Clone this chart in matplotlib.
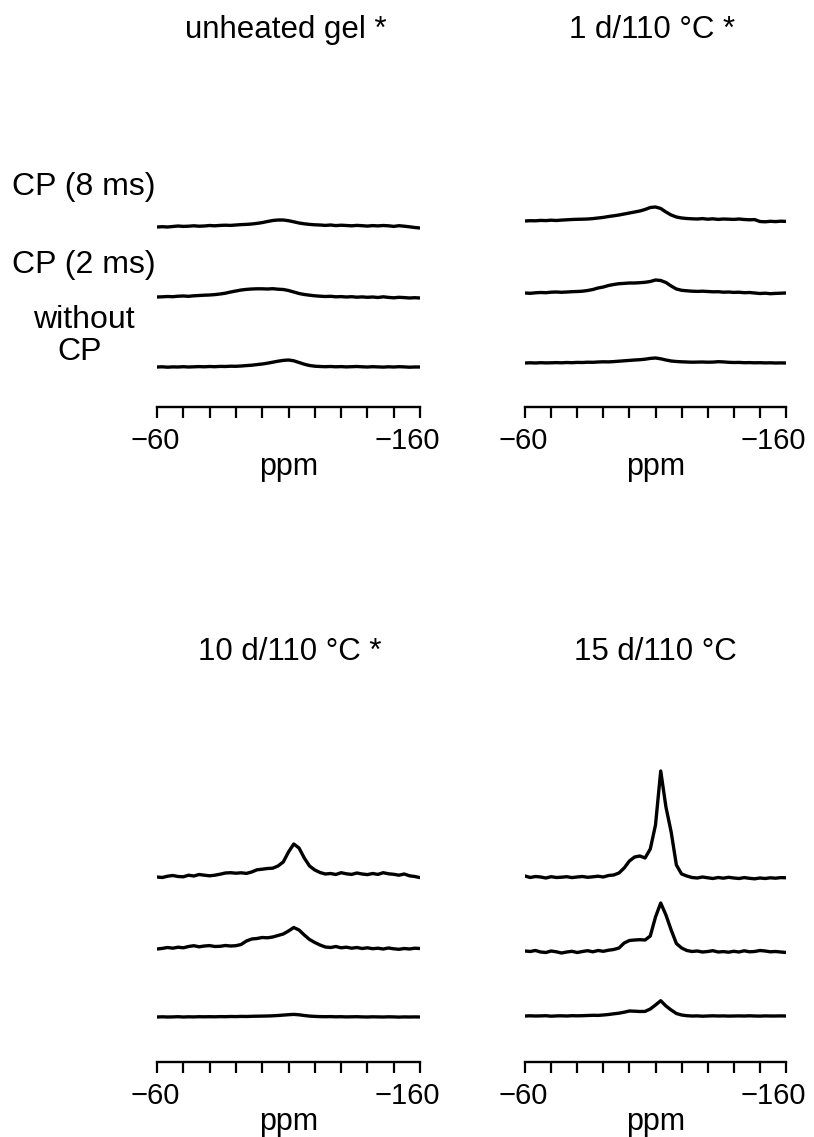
import numpy as np
import matplotlib
matplotlib.use("Agg")
import matplotlib.pyplot as plt

plt.rcParams['font.family'] = ['Liberation Sans', 'DejaVu Sans']

# chemical shift grid (ppm), one reading every 2 ppm
ppm = np.arange(-60, -161, -2)

# intensities (arbitrary units, above each baseline)
unheated_cp8 = [0, 0.3, 0, 0.5, 1, 0.6, 0.8, 1.2, 0.8, 1,
                1.5, 1.2, 1.6, 1.8, 1.6, 2, 2.4, 2.6, 3, 3.6,
                4.4, 5.5, 6.5, 7, 7, 6.3, 5.2, 4, 3.2, 2.6,
                2.2, 2, 1.6, 2, 1.4, 1.8, 1.5, 1.2, 1.6, 1.3,
                0.9, 1.4, 1.1, 1.5, 1.2, 0.6, 1.3, 0.8, 0.2, -0.5, -1]
unheated_cp2 = [0, 0.2, 0.5, 0.3, 0.8, 1, 0.7, 1.2, 1.5, 1.8,
                2, 2.4, 3, 3.8, 5, 6, 7, 7.6, 8, 8.2,
                8.2, 8, 8.3, 7.8, 7.5, 6.5, 5, 3.5, 2.5, 1.8,
                1.2, 0.8, 0.5, 0.7, 0.2, 0.4, 0, 0.3, -0.2, 0.1,
                -0.3, 0, -0.5, 0.2, -0.4, -0.8, -0.3, -0.6, -1, -0.7, -1]
unheated_nocp = [0, 0.2, -0.2, 0.1, 0, 0.3, 0, 0.2, 0.4, 0.2,
                 0.5, 0.3, 0.6, 0.5, 0.8, 0.7, 1, 1.4, 1.8, 2.4,
                 3, 3.8, 4.8, 5.8, 6.6, 7, 6.2, 4.5, 2.8, 1.5,
                 0.8, 0.5, 0.3, 0.5, 0.2, 0.4, 0.1, 0.3, 0.5, 0.2,
                 0, 0.3, 0.1, -0.1, 0.2, 0, 0.3, 0.1, -0.2, 0, 0]

d1_cp8 = [0, 0.3, 0.2, 0.6, 0.4, 0.8, 0.5, 0.9, 1.2, 1.5,
          1.7, 1.8, 2, 2.4, 3, 3.6, 4.5, 5.2, 6, 7,
          8, 9, 10, 11.5, 13.5, 14, 12.5, 9, 6, 4,
          3, 2.5, 2.2, 2, 2.4, 1.8, 2.2, 1.6, 2, 1.8,
          1.6, 2, 1.5, 1.2, 1.4, -0.5, -0.8, -0.3, -0.6, -0.2, -0.4]
d1_cp2 = [0, -0.3, 0.2, 0.5, 0.3, 0.8, 1, 0.7, 1, 1.3,
          1.5, 1.8, 2.5, 3.5, 5, 6, 7.5, 8.5, 9.3, 9.6,
          10, 10, 10.3, 10.7, 11.5, 13, 12.5, 10.5, 7, 4,
          2.7, 2.2, 1.8, 1.6, 1.8, 1.5, 1.2, 1.3, 0.8, 1,
          0.6, 0.8, 0.3, 0.5, 0, -0.5, -0.2, -0.7, -0.4, -0.2, 0]
d1_nocp = [0, 0.2, 0, 0.3, 0.1, 0.2, 0.4, 0.2, 0.5, 0.3,
           0.6, 0.5, 0.8, 0.7, 1, 1.2, 1.1, 1.4, 1.8, 2.2,
           2.6, 3, 3.3, 3.8, 4.6, 5, 4.2, 3, 2, 1.5,
           1.2, 1, 0.8, 0.9, 1, 0.8, 0.9, 1.3, 1.1, 0.7,
           0.5, 0.6, 0.3, 0.4, 0.2, 0.3, 0.1, 0.2, 0, 0.1, 0]

d10_cp8 = [0, -0.5, 0.8, 1.5, 0.5, 0.2, 1.8, 1, 2.5, 1.8,
           1.2, 1.8, 2.8, 4, 4.3, 3.8, 4.2, 3.6, 5, 7.2,
           7.8, 8.5, 8.8, 11, 15, 25, 33, 29, 19, 11,
           7, 4.5, 3, 3.5, 2.5, 4.3, 3.2, 2.6, 4, 3,
           2.4, 3.5, 2.6, 4.3, 3.2, 2.7, 1.8, 3, 1.2, 0.5, -0.6]
d10_cp2 = [0, 0.6, 1.5, 0.8, 1.8, 1.2, 2.5, 3.3, 2.2, 3,
           3.4, 2.5, 2.7, 3.5, 3, 3.3, 4.5, 8, 10, 10.5,
           11.5, 11.2, 12, 13.5, 15, 18, 21.5, 19, 14, 9.5,
           6.5, 4, 2, 1.5, 2.5, 1.2, 1.8, 0.8, 1.5, 0.5,
           1.2, 0.3, 0.8, 0, 1, 0.2, -0.3, 0.5, 0, 0.8, 0.5]
d10_nocp = [0, 0.2, 0, 0.1, 0.3, 0, 0.2, 0.1, 0.3, 0.2,
            0.3, 0.2, 0.4, 0.3, 0.5, 0.4, 0.6, 0.5, 0.7, 0.8,
            0.9, 1, 1.2, 1.5, 1.9, 2.3, 2.6, 2.2, 1.5, 0.9,
            0.6, 0.4, 0.3, 0.4, 0.2, 0.3, 0.1, 0.2, 0.3, 0.1,
            0, 0.2, 0.1, 0, 0.2, 0.1, -0.1, 0.1, 0, 0.1, 0]

d15_cp8 = [1, -0.5, 0.5, 0, -1, 0.3, -0.5, -0.2, 0.3, -0.6,
           0, 0.5, -0.3, 0.2, 0.8, 0, 1.5, 2, 4, 9,
           16, 20, 21, 19, 28, 52, 106, 70, 45, 12,
           3, 1, -0.5, -1, 0, -0.8, -1.5, -0.5, -1.2, -0.3,
           -1, -1.5, -0.6, -1.3, -1.8, -1, -1.5, -0.8, -1.2, -0.6, -0.8]
d15_cp2 = [0, -0.5, 0.5, -1, -1.5, 0, -0.8, -2, -1, -0.3,
           -1.5, -0.5, 0.3, -0.8, 0.5, -0.3, 0.8, 1.5, 3, 8,
           10.5, 11, 11.3, 11, 15, 34, 48, 36, 21, 7.5,
           3, 0.5, -0.5, 0, -1, -0.5, 0.3, -1, -0.6, -1.2,
           -0.3, -1, 0.2, -0.8, -0.5, 0.5, 0, -0.8, -0.5, -1, -1.5]
d15_nocp = [0, 0.2, 0, 0.1, 0.3, -0.2, 0.1, 0.2, 0, 0.3,
            0.2, 0.3, 0.5, 0.7, 0.6, 1, 1.5, 2.2, 2.8, 3.8,
            5, 4.8, 4.5, 4.6, 7, 11, 15.3, 10, 6, 2.5,
            1, 0.3, 0, 0.1, -0.2, 0, 0.2, 0, 0.1, -0.1,
            0, 0.1, 0, 0.2, 0, -0.1, 0.1, 0, 0, 0.1, 0]

titles = ['unheated gel *', '1 d/110 °C *', '10 d/110 °C *', '15 d/110 °C']
spectra = [
    [unheated_cp8, unheated_cp2, unheated_nocp],
    [d1_cp8, d1_cp2, d1_nocp],
    [d10_cp8, d10_cp2, d10_nocp],
    [d15_cp8, d15_cp2, d15_nocp],
]
row_labels = ['CP (8 ms)', 'CP (2 ms)', 'without', 'CP']
tick_pos = np.arange(-60, -161, -10)
end_labels = [(-60, '\u221260'), (-160, '\u2212160')]

# layout in pixels of the 814x1137 canvas
W, H = 814, 1137
offsets = [[180, 110, 40], [186, 114, 44], [185, 113, 45], [185, 111, 46]]
boxes = [(157, 420, 407), (525, 786, 407), (157, 420, 1062), (525, 786, 1062)]
title_pos = [(286, 38), (652, 38), (290, 660), (655, 660)]
label_pos = [(84, 195), (84, 273), (84, 328), (80, 360)]
label_shift = [-1, -9]   # points, tick labels sit a bit left of their ticks
AX_H = 330

fig = plt.figure(figsize=(W / 100, H / 100), dpi=100)

for k in range(4):
    x0, x1, yb = boxes[k]
    ax = fig.add_axes([x0 / W, (H - yb) / H, (x1 - x0) / W, AX_H / H])
    for vals, off in zip(spectra[k], offsets[k]):
        ax.plot(ppm, np.array(vals) + off, color='black', lw=2.4,
                solid_joinstyle='round', solid_capstyle='round')
    ax.set_xlim(-60, -160)
    ax.set_ylim(0, AX_H)
    for s in ['left', 'top', 'right']:
        ax.spines[s].set_visible(False)
    ax.spines['bottom'].set_linewidth(1.7)
    ax.set_yticks([])
    ax.set_xticks(tick_pos)
    ax.set_xticklabels([])
    ax.tick_params(axis='x', direction='out', length=8, width=1.6)
    for (xv, txt), dx in zip(end_labels, label_shift):
        ax.annotate(txt, xy=(xv, 0), xycoords=('data', 'axes fraction'),
                    xytext=(dx, -14.5), textcoords='offset points',
                    ha='center', va='top', fontsize=21)
    ax.text(0.5, -0.205, 'ppm', transform=ax.transAxes, ha='center',
            va='baseline', fontsize=22)
    tx, ty = title_pos[k]
    fig.text(tx / W, (H - ty) / H, titles[k], ha='center', va='baseline',
             fontsize=22.5)

for lbl, (lx, ly) in zip(row_labels, label_pos):
    fig.text(lx / W, (H - ly) / H, lbl, ha='center', va='baseline', fontsize=23)

fig.savefig('out.png', dpi=100)
